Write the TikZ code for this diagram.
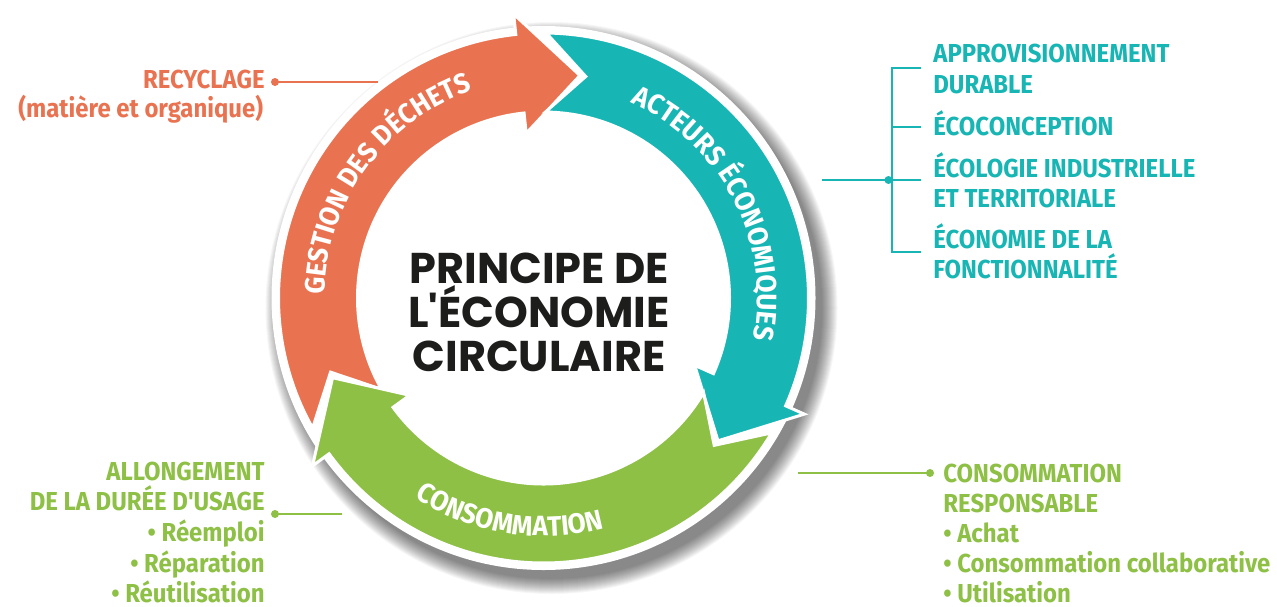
\documentclass[tikz,border=0pt]{standalone}
\usepackage{fontspec}
\setsansfont{Fira Sans}
\newfontfamily\sidefam{Fira Sans}[FakeStretch=0.92]
\newfontfamily\bandfam{Fira Sans}[FakeStretch=0.94]
\newfontfamily\titlefam{Poppins}
\usepackage{xcolor}
\usetikzlibrary{decorations.text}

\definecolor{wasteorange}{RGB}{233,115,81}
\definecolor{actorteal}{RGB}{23,181,180}
\definecolor{consgreen}{RGB}{141,192,69}
\definecolor{titleblack}{RGB}{29,29,27}

\newcommand\bandfont{\bandfam\bfseries\fontsize{14pt}{16pt}\selectfont}

% one arrow of the cycle: #1 = angle of the head base, #2 = colour
\newcommand\cyclearrow[2]{%
  \pgfmathsetmacro\tailang{#1+113.4}%
  \pgfmathsetmacro\notchang{#1+103.2}%
  \pgfmathsetmacro\tipang{#1-15.3}%
  \filldraw[arrowband, fill=#2] (\tailang:265) arc[start angle=\tailang, end angle=#1, radius=265]
    -- (#1:285.5) -- (\tipang:225.5) -- (#1:165.5) -- (#1:186)
    arc[start angle=#1, end angle=\tailang, radius=186] -- (\notchang:225.5) -- cycle;}

\begin{document}
\begin{tikzpicture}[
    x=0.5pt, y=0.5pt,
    arrowband/.style={draw=white, line width=1.5pt, line join=miter},
    sidetext/.style={font=\sidefam\bfseries\fontsize{13pt}{15pt}\selectfont, inner sep=0pt},
    titletext/.style={font=\titlefam\bfseries\fontsize{21.5pt}{22pt}\selectfont, text=titleblack, align=center, inner sep=0pt},
    dot/.style={circle, inner sep=0pt, minimum size=4pt},
    lead/.style={line width=1pt}
]
\useasboundingbox (-543.5,-308) rectangle (733.5,298);
\fill[white] (-543.5,-308) rectangle (733.5,298);

% soft shadow and white disc
\foreach \d in {0,...,15}
  \fill[black, opacity=0.036] (8,-10) circle[radius=271+\d];
\fill[white] (0,0) circle[radius=272];

% the three arrows
\cyclearrow{96}{wasteorange}
\cyclearrow{-24}{actorteal}
\cyclearrow{216}{consgreen}

% texts in the bands
\path[decorate, decoration={text along path, text align=center, text color=white,
    text={|\bandfont|GESTION DES DÉCHETS}}]
  (205:219) arc[start angle=205, end angle=83, radius=219];
\path[decorate, decoration={text along path, text align=center, text color=white,
    text={|\bandfont|ACTEURS ÉCONOMIQUES}}]
  (87:214) arc[start angle=87, end angle=-32, radius=214];
\path[decorate, decoration={text along path, text align=center, text color=white,
    text={|\bandfont|CONSOMMATION}}]
  (201:238) arc[start angle=201, end angle=321, radius=238];

\node (title) [titletext] at (-4.5,-14) {PRINCIPE DE\\L'ÉCONOMIE\\CIRCULAIRE};

% recyclage
\node (recy) [sidetext, text=wasteorange, anchor=base east] at (-278.5,210) {RECYCLAGE};
\node (recysub) [sidetext, text=wasteorange, anchor=base east] at (-280,181) {(matière et organique)};
\node (recydot) [dot, fill=wasteorange] at (-268.5,216) {};
\coordinate (recyend) at (-165.5,216);
\draw[lead, wasteorange] (recydot.center) -- (recyend);

% acteurs economiques
\node (appro) [sidetext, text=actorteal, anchor=base west] at (389.5,235) {APPROVISIONNEMENT};
\node (durable) [sidetext, text=actorteal, anchor=base west] at (389.5,205) {DURABLE};
\node (ecoconc) [sidetext, text=actorteal, anchor=base west] at (389.5,163) {ÉCOCONCEPTION};
\node (ecolog) [sidetext, text=actorteal, anchor=base west] at (389.5,121) {ÉCOLOGIE INDUSTRIELLE};
\node (territ) [sidetext, text=actorteal, anchor=base west] at (389.5,91) {ET TERRITORIALE};
\node (econom) [sidetext, text=actorteal, anchor=base west] at (389.5,50) {ÉCONOMIE DE LA};
\node (fonct) [sidetext, text=actorteal, anchor=base west] at (389.5,20) {FONCTIONNALITÉ};
\coordinate (brtop) at (348.5,230);
\coordinate (brbot) at (348.5,46);
\coordinate (tickA) at (377.5,230);
\coordinate (tickB) at (377.5,171);
\coordinate (tickC) at (377.5,118);
\coordinate (tickD) at (377.5,46);
\coordinate (brB) at (348.5,171);
\coordinate (actstart) at (278.5,118);
\node (actdot) [dot, fill=actorteal] at (345,118) {};
\draw[lead, actorteal] (tickA) -- (brtop) -- (brbot) -- (tickD);
\draw[lead, actorteal] (brB) -- (tickB);
\draw[lead, actorteal] (actstart) -- (tickC);

% allongement de la duree d'usage
\node (allong) [sidetext, text=consgreen, anchor=base east] at (-278.5,-182) {ALLONGEMENT};
\node (duree) [sidetext, text=consgreen, anchor=base east] at (-278.5,-212) {DE LA DURÉE D'USAGE};
\node (reemploi) [sidetext, text=consgreen, anchor=base east] at (-278.5,-243) {• Réemploi};
\node (repar) [sidetext, text=consgreen, anchor=base east] at (-278.5,-274) {• Réparation};
\node (reutil) [sidetext, text=consgreen, anchor=base east] at (-278.5,-304) {• Réutilisation};
\node (usagedot) [dot, fill=consgreen] at (-268.5,-216) {};
\coordinate (usageend) at (-201.5,-216);
\draw[lead, consgreen] (usagedot.center) -- (usageend);

% consommation responsable
\node (conso) [sidetext, text=consgreen, anchor=base west] at (399.5,-184) {CONSOMMATION};
\node (respons) [sidetext, text=consgreen, anchor=base west] at (399.5,-214) {RESPONSABLE};
\node (achat) [sidetext, text=consgreen, anchor=base west] at (399.5,-244) {• Achat};
\node (collab) [sidetext, text=consgreen, anchor=base west] at (399.5,-274) {• Consommation collaborative};
\node (utilis) [sidetext, text=consgreen, anchor=base west] at (399.5,-304) {• Utilisation};
\node (consdot) [dot, fill=consgreen] at (386.5,-175) {};
\coordinate (consstart) at (254.5,-175);
\draw[lead, consgreen] (consstart) -- (consdot.center);

\end{tikzpicture}
\end{document}
